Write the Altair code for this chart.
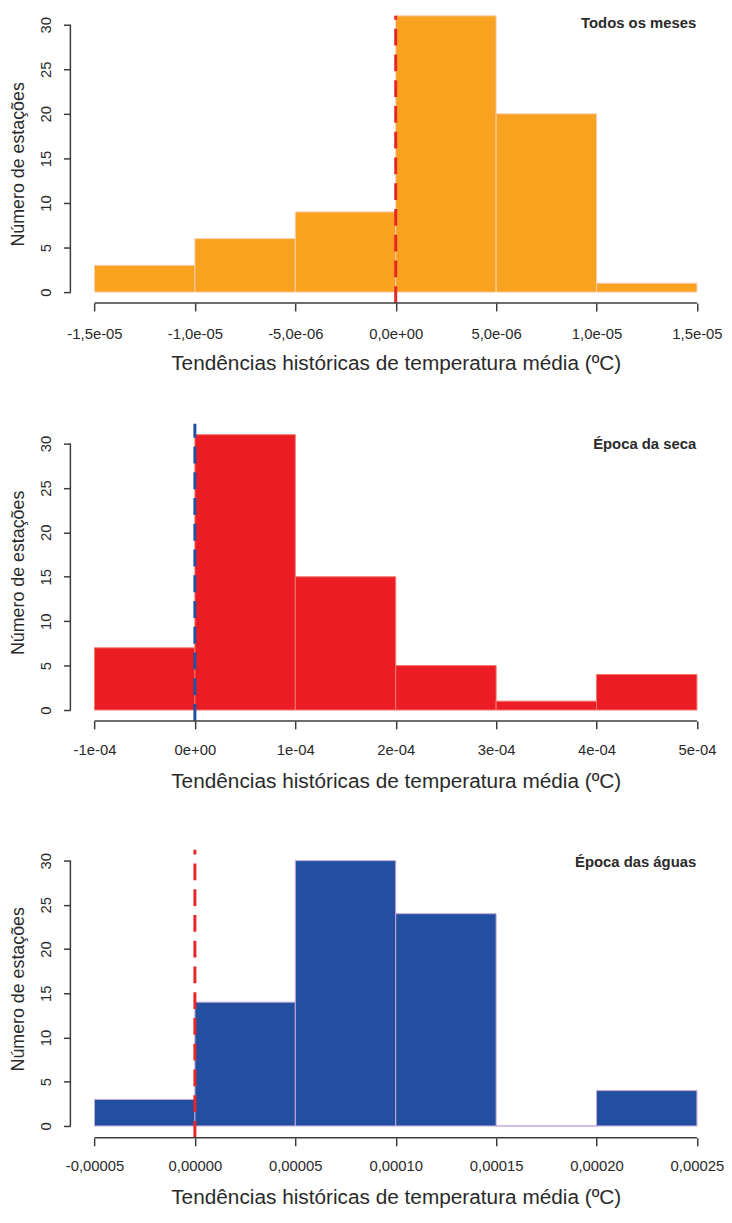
import altair as alt
import pandas as pd

FONT = "Liberation Sans"
AXIS_COLOR = "#3c3c3c"
TEXT_COLOR = "#2a2a2a"
X_TITLE = "Tendências históricas de temperatura média (ºC)"
Y_TITLE = "Número de estações"
Y_TICKS = [0, 5, 10, 15, 20, 25, 30]

# Panel 1 - Todos os meses
p1_left = [-1.5e-05, -1.0e-05, -5.0e-06, 0.0, 5.0e-06, 1.0e-05]
p1_right = [-1.0e-05, -5.0e-06, 0.0, 5.0e-06, 1.0e-05, 1.5e-05]
p1_counts = [3, 6, 9, 31, 20, 1]
p1_ticks = [-1.5e-05, -1.0e-05, -5.0e-06, 0.0, 5.0e-06, 1.0e-05, 1.5e-05]
p1_labels = ["-1,5e-05", "-1,0e-05", "-5,0e-06", "0,0e+00", "5,0e-06", "1,0e-05", "1,5e-05"]

# Panel 2 - Época da seca
p2_left = [-1e-04, 0.0, 1e-04, 2e-04, 3e-04, 4e-04]
p2_right = [0.0, 1e-04, 2e-04, 3e-04, 4e-04, 5e-04]
p2_counts = [7, 31, 15, 5, 1, 4]
p2_ticks = [-1e-04, 0.0, 1e-04, 2e-04, 3e-04, 4e-04, 5e-04]
p2_labels = ["-1e-04", "0e+00", "1e-04", "2e-04", "3e-04", "4e-04", "5e-04"]

# Panel 3 - Época das águas
p3_left = [-5e-05, 0.0, 5e-05, 1.0e-04, 1.5e-04, 2.0e-04]
p3_right = [0.0, 5e-05, 1.0e-04, 1.5e-04, 2.0e-04, 2.5e-04]
p3_counts = [3, 14, 30, 24, 0, 4]
p3_ticks = [-5e-05, 0.0, 5e-05, 1.0e-04, 1.5e-04, 2.0e-04, 2.5e-04]
p3_labels = ["-0,00005", "0,00000", "0,00005", "0,00010", "0,00015", "0,00020", "0,00025"]

WIDTH = 657


def panel(left, right, counts, ticks, labels, name, fill, edge, vline,
          ydom, height, label_off, name_y, line_top=0, title_y=67):
    span = ticks[-1] - ticks[0]
    xdom = [ticks[0] - 0.04 * span, ticks[-1] + 0.04 * span]
    bars = pd.DataFrame({"x0": left, "x1": right, "n": counts})
    n = len(labels) - 1
    lab_js = "[" + ",".join("'%s'" % s for s in labels) + "]"
    xaxis = alt.Axis(
        values=ticks, labelExpr=lab_js + "[round(datum.index*%d)]" % n,
        domain=False, grid=False, tickSize=8, tickWidth=1.5, tickColor=AXIS_COLOR,
        labelFont=FONT, labelFontSize=15, labelColor=TEXT_COLOR,
        labelBaseline="alphabetic", labelPadding=label_off - 8,
        labelFlush=False, labelOverlap=False,
        title=X_TITLE, titleFont=FONT, titleFontSize=21, titleFontWeight="normal",
        titleColor=TEXT_COLOR, titleBaseline="alphabetic", titleY=title_y,
    )
    yaxis = alt.Axis(
        values=Y_TICKS, domain=False, grid=False, tickSize=7, tickWidth=1.5,
        tickColor=AXIS_COLOR, labelFont=FONT, labelFontSize=15, labelColor=TEXT_COLOR,
        labelAngle=270, labelAlign="center", labelBaseline="alphabetic",
        labelPadding=13, title=Y_TITLE, titleFont=FONT, titleFontSize=18,
        titleFontWeight="normal", titleColor=TEXT_COLOR, titleAngle=270,
        titleBaseline="middle", titleX=-52,
    )
    xs = alt.Scale(domain=xdom, nice=False, zero=False)
    ys = alt.Scale(domain=ydom, nice=False, zero=False)

    hist = alt.Chart(bars).mark_rect(fill=fill, stroke=edge, strokeWidth=1).encode(
        x=alt.X("x0:Q", scale=xs, axis=xaxis),
        x2="x1:Q",
        y=alt.Y("n:Q", scale=ys, axis=yaxis),
        y2=alt.datum(0),
    )
    base = alt.Chart(pd.DataFrame({"label": [name]}))
    xline = base.mark_rule(color=AXIS_COLOR, strokeWidth=1.5).encode(
        x=alt.datum(ticks[0]), x2=alt.datum(ticks[-1]), y=alt.value(height))
    yline = base.mark_rule(color=AXIS_COLOR, strokeWidth=1.5).encode(
        x=alt.value(0), y=alt.datum(Y_TICKS[0]), y2=alt.datum(Y_TICKS[-1]))
    zero = base.mark_rule(color=vline, strokeWidth=3, strokeDash=[17, 9]).encode(
        x=alt.datum(0), y=alt.value(height), y2=alt.value(line_top))
    txt = base.mark_text(align="right", baseline="alphabetic", font=FONT,
                         fontSize=15, fontWeight="bold", color=TEXT_COLOR).encode(
        x=alt.value(WIDTH - 25), y=alt.value(name_y), text="label:N")
    return alt.layer(hist, zero, xline, yline, txt).properties(width=WIDTH, height=height)


# panel 1: plot area starts at the 30 tick; the tallest bar and the dashed line rise above it
c1 = panel(p1_left, p1_right, p1_counts, p1_ticks, p1_labels, "Todos os meses",
           "#F8A21F", "#F9CDB0", "#E8262A", [-11 / 9, 30], 281, 36, 3,
           line_top=-9)
c2 = panel(p2_left, p2_right, p2_counts, p2_ticks, p2_labels, "Época da seca",
           "#EC1C24", "#F27868", "#2350A0", [-11 / 8.97, 289 / 8.97], 300, 34, 25)
c3 = panel(p3_left, p3_right, p3_counts, p3_ticks, p3_labels, "Época das águas",
           "#234FA0", "#C8A8D8", "#E8262A", [-12 / 8.93, 289 / 8.93], 301, 33, 28,
           line_top=10, title_y=66)

chart = alt.concat(c1, c2, c3, columns=1, spacing=49, align="none").properties(
    padding={"left": 2, "top": 0, "right": 0, "bottom": 0},
    background="white",
).configure_view(stroke=None)

chart.save("out.html", embed_options={"renderer": "svg", "actions": False})
